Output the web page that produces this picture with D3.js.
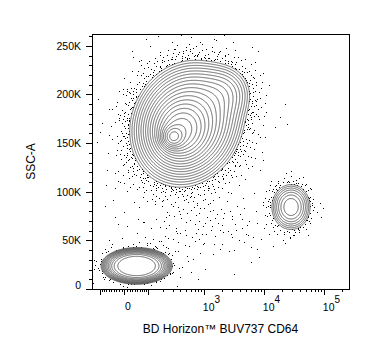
<!DOCTYPE html>
<html>
<head>
<meta charset="utf-8">
<script src="https://cdn.jsdelivr.net/npm/d3@7"></script>
<style>
  body { margin: 0; background: #fff; }
  svg { display: block; font-family: "Liberation Sans", Arial, sans-serif; }
</style>
</head>
<body>
<div id="chart"></div>
<script>
// event populations:
// centre (CD64, SSC-A), spread (decades, SSC units), share of events, CD64/SSC correlation, peak flatness
const popCD64   = [300, 397, 522, 522, 2261, 46, 61, 28400, 1049];
const popSSC    = [156300, 162400, 170000, 170000, 202500, 23600, 27800, 84300, 65800];
const popSdCD64 = [0.10, 0.216, 0.357, 0.475, 0.233, 0.315, 0.416, 0.17, 0.666];
const popSdSSC  = [6200, 14400, 24400, 32200, 14400, 10000, 12300, 12400, 20600];
const popWeight = [0.06, 0.16, 0.27, 0.045, 0.012, 0.076, 0.0035, 0.0152, 0.003];
const popCorr   = [0, 0.05, 0.12, 0.12, 0, 0, 0, 0, 0];
const popFlat   = [1, 1, 1, 1, 1, 2, 1, 1, 1];

// axis ticks
const ySSCMajor = [0, 50000, 100000, 150000, 200000, 250000];
const ySSCMinor = d3.range(0, 262144, 10000);
const xCD64Major = [-100, 0, 100, 1000, 10000, 100000];
const xCD64Labeled = [0, 1000, 10000, 100000];
const xCD64Minor = [
  -90, -80, -70, -60, -50, -40, -30, -20, -10,
  10, 20, 30, 40, 50, 60, 70, 80, 90,
  200, 300, 400, 500, 600, 700, 800, 900,
  2000, 3000, 4000, 5000, 6000, 7000, 8000, 9000,
  20000, 30000, 40000, 50000, 60000, 70000, 80000, 90000, 200000
];

const xTitle = "BD Horizon™ BUV737 CD64";
const yTitle = "SSC-A";

const W = 369, H = 357;
const margin = { top: 34, left: 92 };
const pw = 257, ph = 255;

// biexponential-like display: asinh with a linear region round zero
const linWidth = 94.8;
const T = v => Math.asinh(v / linWidth) / Math.LN10;

const x = d3.scaleLinear().domain([T(-150), T(262144)]).range([0, pw]);
const y = d3.scaleLinear().domain([0, 262144]).range([ph, 0]);
const pxPerDecade = x(1) - x(0);
const pxPerSSC = ph / 262144;

const svg = d3.select("#chart").append("svg")
  .attr("width", W).attr("height", H);

const g = svg.append("g").attr("transform", `translate(${margin.left},${margin.top})`);

// density grid over the plot area
const comps = popCD64.map((c, i) => ({
  cx: x(T(c)), cy: y(popSSC[i]),
  sx: popSdCD64[i] * pxPerDecade, sy: popSdSSC[i] * pxPerSSC,
  w: popWeight[i], r: popCorr[i], p: popFlat[i]
}));
const grid = new Float64Array(pw * ph);
for (let j = 0; j < ph; j++) {
  for (let i = 0; i < pw; i++) {
    let v = 0;
    for (const c of comps) {
      const dx = (i + 0.5 - c.cx) / c.sx, dy = -(j + 0.5 - c.cy) / c.sy;
      const q = (dx * dx - 2 * c.r * dx * dy + dy * dy) / (2 * (1 - c.r * c.r));
      v += c.w / (2 * Math.PI * c.sx * c.sy) * Math.exp(-Math.pow(q, c.p));
    }
    grid[j * pw + i] = v;
  }
}
const dmax = d3.max(grid);
const lowest = 3.5e-6, step = 1.28;
const levels = [];
for (let l = lowest; l < dmax; l *= step) levels.push(l);

// outlying events: quasi-random (Halton) sampling of the same density
function halton(i, b) { let f = 1, r = 0; while (i > 0) { f /= b; r += f * (i % b); i = Math.floor(i / b); } return r; }
const dots = [];
for (let k = 1; k <= 120000; k++) {
  const px = Math.floor(halton(k, 2) * pw), py = Math.floor(halton(k, 3) * ph);
  const d = grid[py * pw + px];
  if (d < lowest && halton(k, 5) < 0.085 * d / lowest) dots.push([px, py]);
}

g.append("g").selectAll("rect").data(dots).join("rect")
  .attr("x", d => d[0]).attr("y", d => d[1])
  .attr("width", 1).attr("height", 1)
  .attr("fill", "#000").attr("shape-rendering", "crispEdges");

const contours = d3.contours().size([pw, ph]).thresholds(levels)(grid);
g.append("g").selectAll("path").data(contours).join("path")
  .attr("d", d3.geoPath())
  .attr("fill", "none")
  .attr("stroke", "#555")
  .attr("stroke-width", 0.9);

// frame
g.append("rect").attr("x", 0).attr("y", 0).attr("width", pw).attr("height", ph)
  .attr("fill", "none").attr("stroke", "#000").attr("stroke-width", 1)
  .attr("shape-rendering", "crispEdges");

// y axis
const yAxis = g.append("g")
  .call(d3.axisLeft(y).tickValues(ySSCMajor).tickSize(6).tickPadding(5)
    .tickFormat(d => d === 0 ? "0" : d / 1000 + "K"));
g.append("g")
  .call(d3.axisLeft(y).tickValues(ySSCMinor).tickSize(3).tickFormat(""));
g.selectAll(".domain").remove();
yAxis.selectAll("text").attr("font-size", 10.5).attr("fill", "#000")
  .attr("font-family", "Liberation Sans, Arial, sans-serif")
  .attr("dy", d => d === 0 ? "-0.05em" : "0.32em");

// x axis
const xa = g.append("g").attr("transform", `translate(0,${ph})`);
xa.call(d3.axisBottom(x).tickValues(xCD64Major.map(T)).tickSize(6).tickFormat(""));
const xm = g.append("g").attr("transform", `translate(0,${ph})`);
xm.call(d3.axisBottom(x).tickValues(xCD64Minor.map(T)).tickSize(3).tickFormat(""));
xa.select(".domain").remove();
xm.select(".domain").remove();
g.selectAll(".tick line").attr("stroke", "#000").attr("shape-rendering", "crispEdges");

const xl = g.append("g").attr("font-size", 10.5).attr("fill", "#000");
xCD64Labeled.forEach(v => {
  const px = x(T(v));
  if (v === 0) {
    xl.append("text").attr("x", px + 3.5).attr("y", ph + 21).attr("text-anchor", "middle").text("0");
  } else {
    const t = xl.append("text").attr("x", px - 1).attr("y", ph + 22).attr("text-anchor", "start");
    t.append("tspan").text("10");
    t.append("tspan").attr("dy", -8).attr("font-size", 10).text(Math.round(Math.log10(v)));
  }
});

// titles
svg.append("text")
  .attr("x", margin.left + pw / 2).attr("y", 333)
  .attr("text-anchor", "middle").attr("font-size", 12).attr("fill", "#000")
  .text(xTitle);
svg.append("text")
  .attr("transform", `translate(35,${margin.top + ph / 2}) rotate(-90)`)
  .attr("text-anchor", "middle").attr("font-size", 12).attr("fill", "#000")
  .text(yTitle);
</script>
</body>
</html>
